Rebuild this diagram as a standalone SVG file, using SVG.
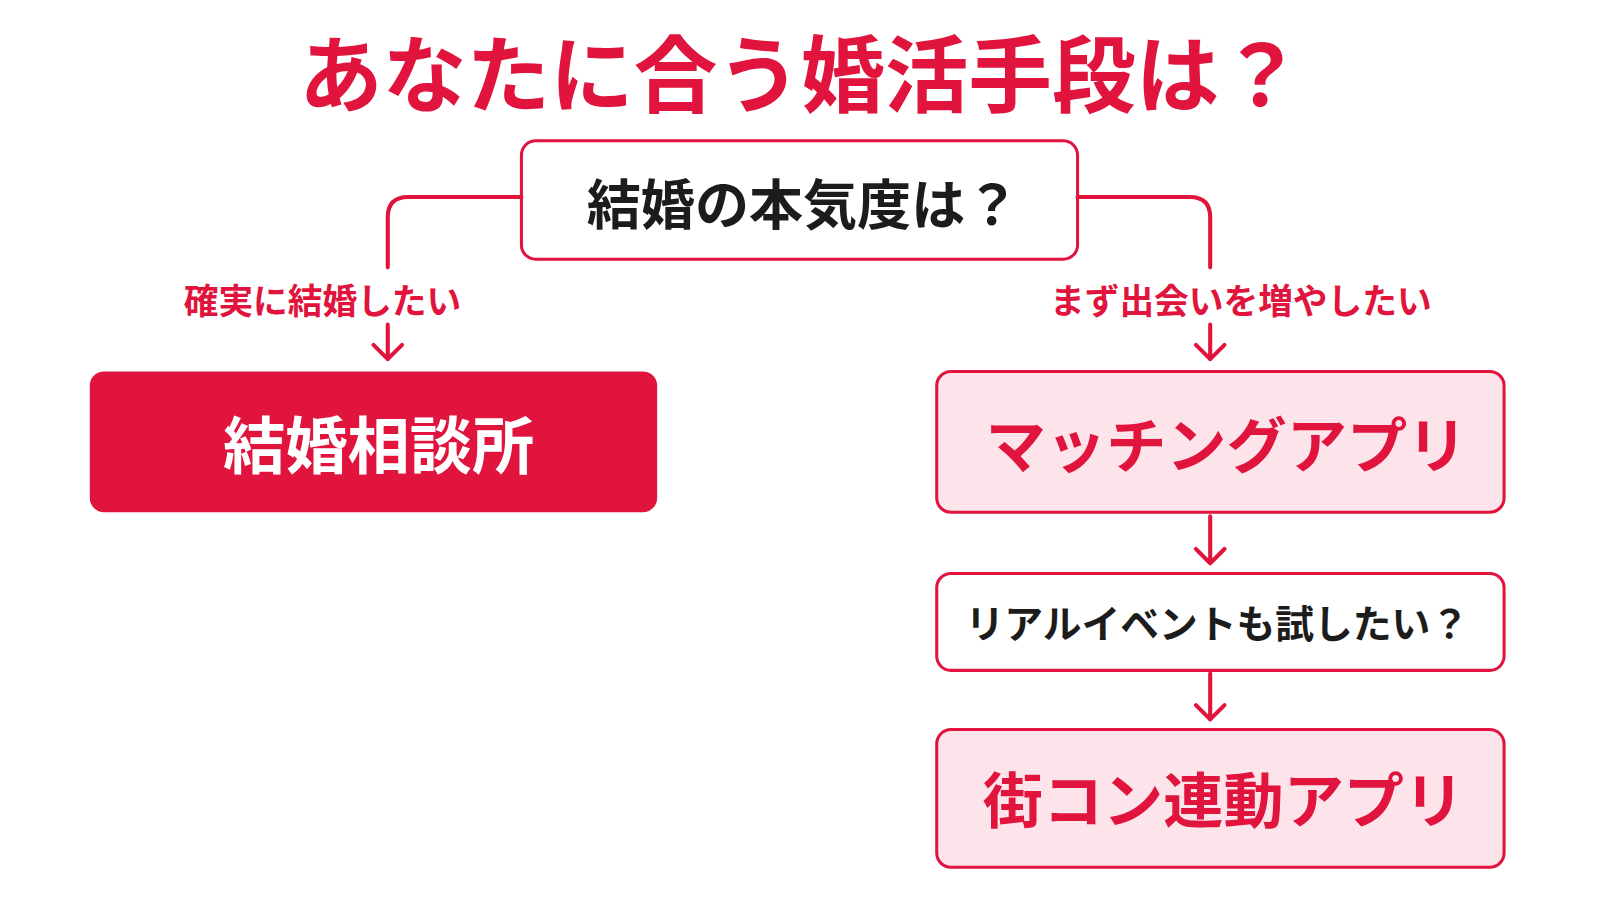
<svg xmlns="http://www.w3.org/2000/svg" width="1600" height="901" viewBox="0 0 1600 901">
<style>
text{font-family:"Noto Sans CJK JP","Noto Sans",sans-serif;font-weight:bold;text-anchor:middle;dominant-baseline:central}
.ln{fill:none;stroke:#E0143C;stroke-width:4;stroke-linecap:round;stroke-linejoin:round}
.red{fill:#E0143C}.dark{fill:#1c1c1c}
.box{stroke:#E0143C;stroke-width:3}
</style>
<rect width="1600" height="901" fill="#fff"/>
<g transform="scale(1.0204)">
<text x="785" y="68" font-size="82" class="red">あなたに合う婚活手段は？</text>
<g id="q1"><rect x="511" y="138" width="545" height="116" rx="14" fill="#fff" class="box"/><text x="787" y="197" font-size="53" class="dark">結婚の本気度は？</text></g>
<g id="soudanjo"><rect x="88" y="364" width="556" height="138" rx="14" fill="#E0143C"/><text x="371" y="433" font-size="61" fill="#fff">結婚相談所</text></g>
<g id="app"><rect x="918" y="364" width="556" height="138" rx="14" fill="#FDE4EA" class="box"/><text x="1202" y="433" font-size="59" class="red">マッチングアプリ</text></g>
<g id="q2"><rect x="918" y="562" width="556" height="95" rx="14" fill="#fff" class="box"/><text x="1193" y="609" font-size="38" class="dark">リアルイベントも試したい？</text></g>
<g id="machicon"><rect x="918" y="715" width="556" height="135" rx="14" fill="#FDE4EA" class="box"/><text x="1199" y="781" font-size="59" class="red">街コン連動アプリ</text></g>
<g id="connectors">
<path class="ln" d="M511 193H400Q380 193 380 213V262"/>
<path class="ln" d="M1056 193H1166Q1186 193 1186 213V262"/>
<text x="316" y="293" font-size="34" class="red">確実に結婚したい</text>
<text x="1216" y="293" font-size="34" class="red">まず出会いを増やしたい</text>
<path class="ln" d="M380 318V352M366 338L380 352L394 338"/>
<path class="ln" d="M1186 318V352M1172 338L1186 352L1200 338"/>
<path class="ln" d="M1186 506V552M1172 538L1186 552L1200 538"/>
<path class="ln" d="M1186 660V705M1172 691L1186 705L1200 691"/>
</g>
</g>
</svg>
